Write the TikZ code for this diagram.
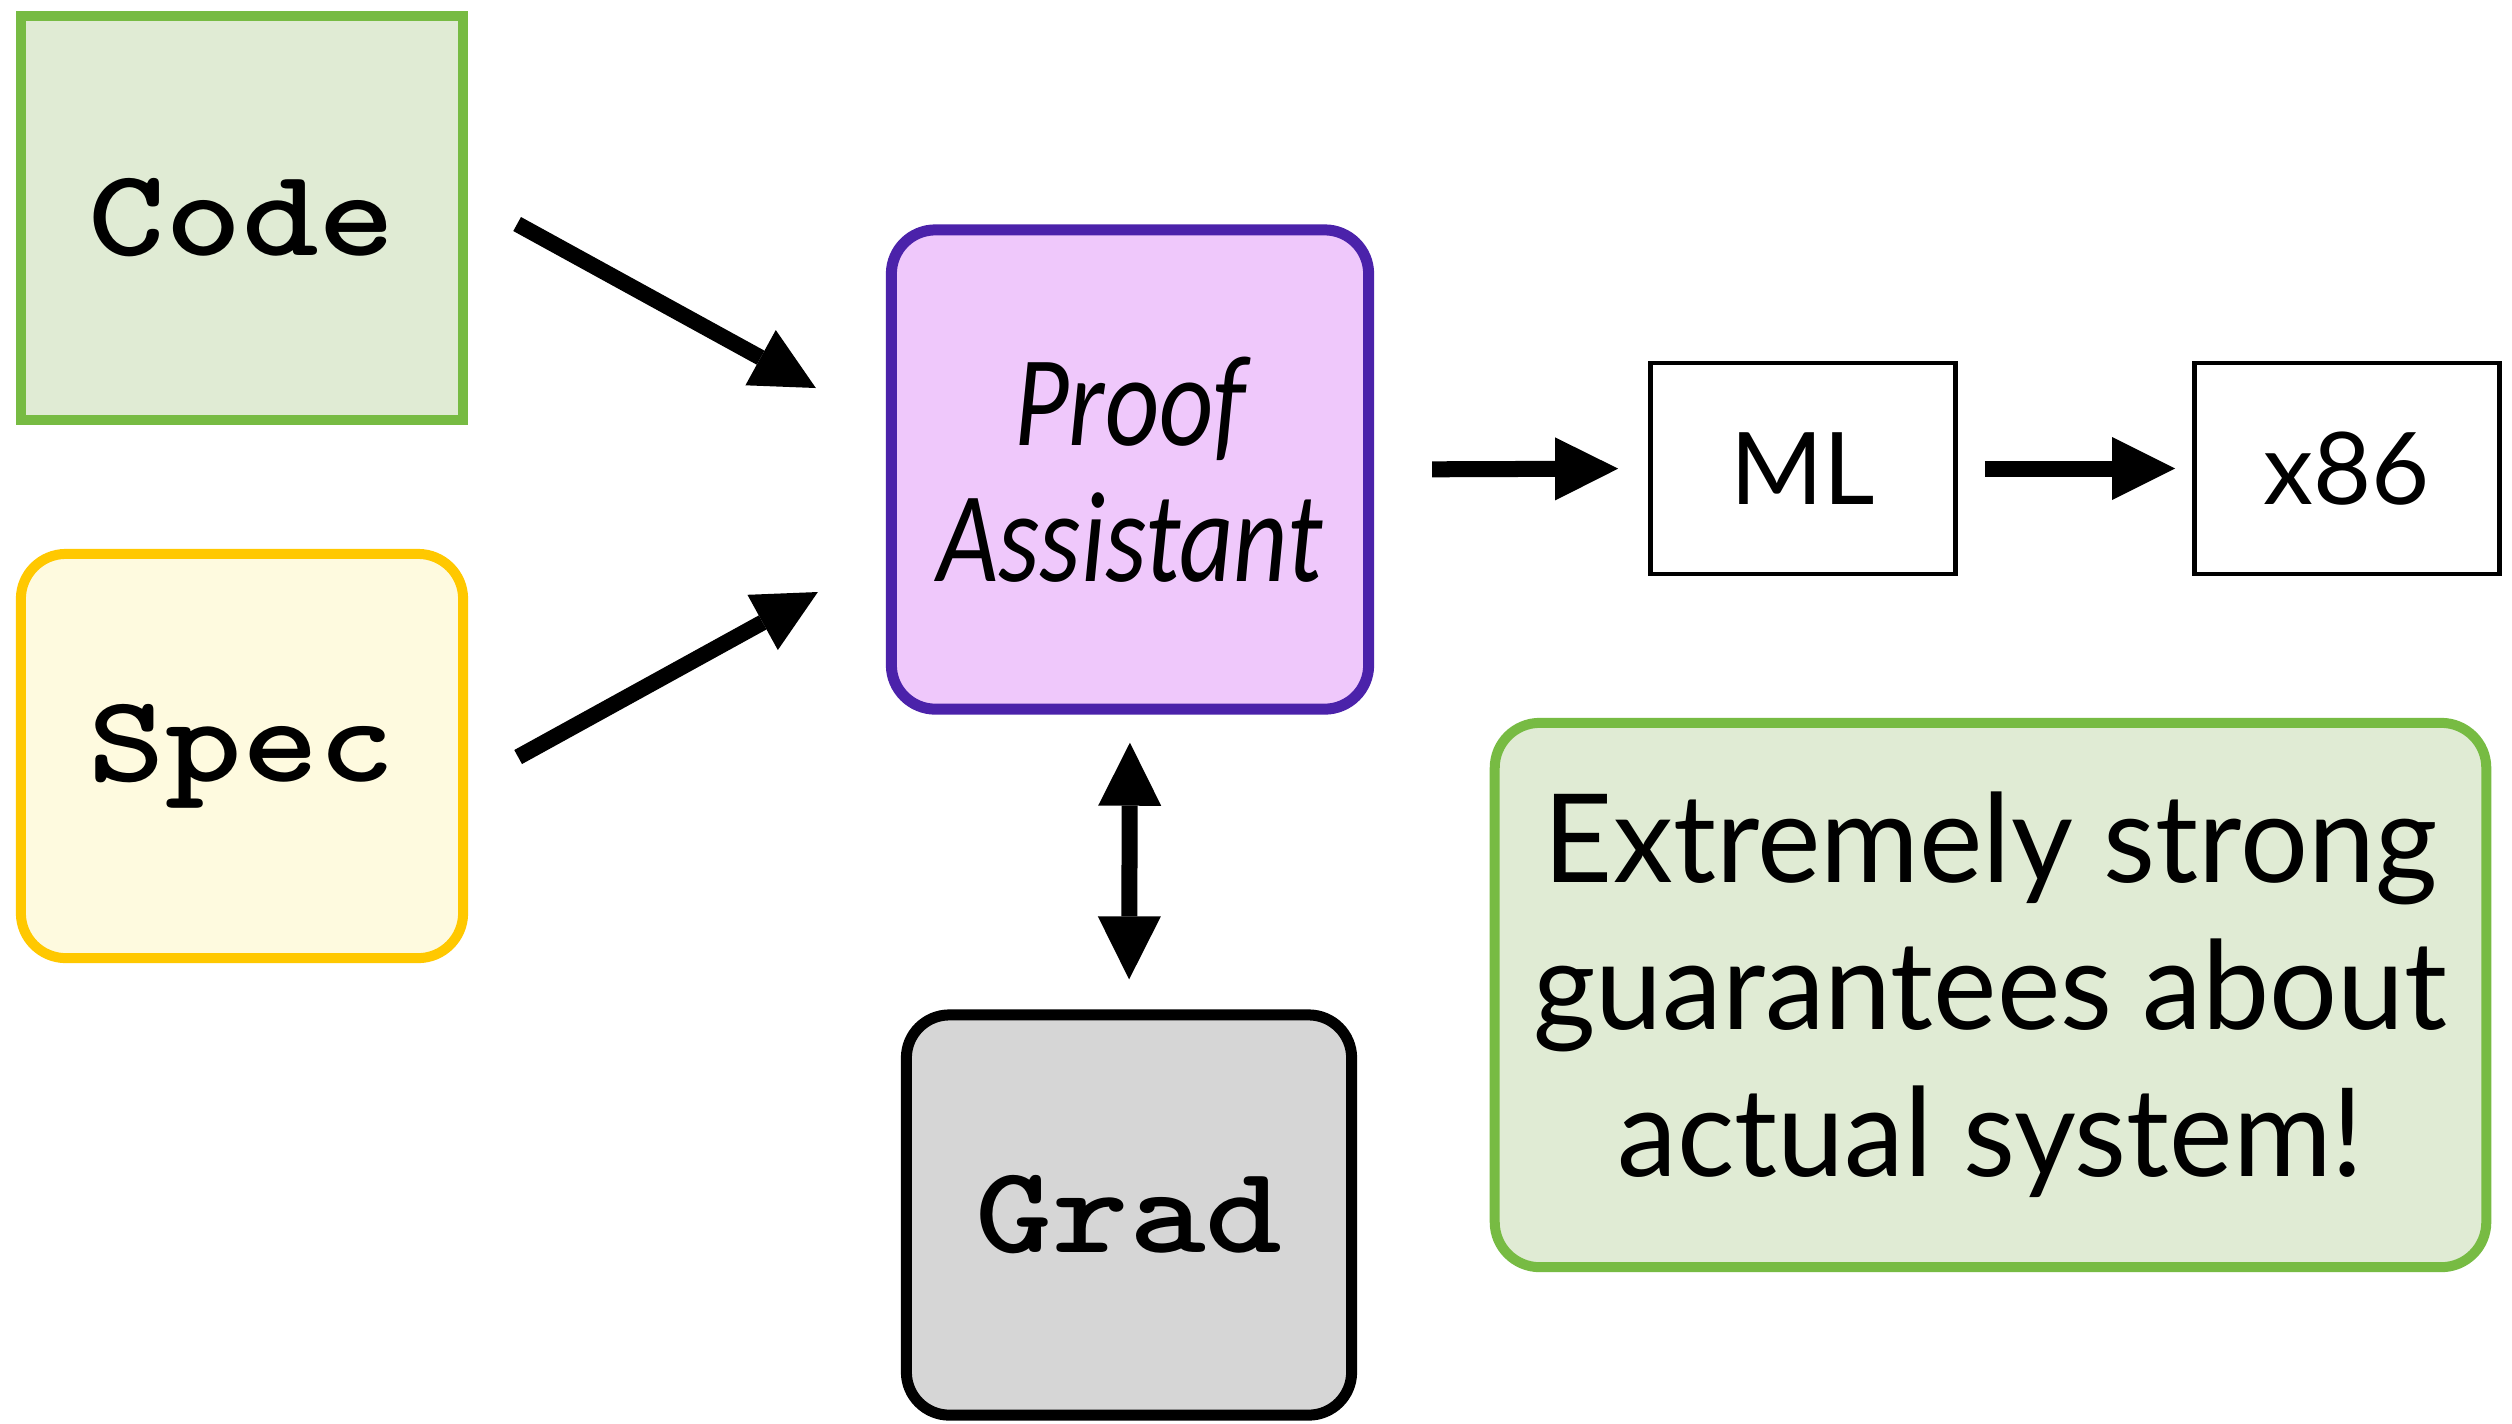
\documentclass[tikz,border=0pt]{standalone}
\usepackage{fontspec}
\usepackage{graphicx}
\usetikzlibrary{arrows.meta,calc}
\setmainfont{Lato}
\newfontfamily\calibrilike{Carlito}
\newfontfamily\typewriterbold{lmmonolt10-bold.otf}
\newcommand{\boxmono}{\typewriterbold\fontsize{41.5pt}{44pt}\selectfont}
\newcommand{\monolabel}[1]{\scalebox{1}[0.85]{#1}}

\definecolor{codeedge}{HTML}{77BB43}
\definecolor{codefill}{HTML}{E0EBD4}
\definecolor{specedge}{HTML}{FFC800}
\definecolor{specfill}{HTML}{FEFADF}
\definecolor{proofedge}{HTML}{4B22AA}
\definecolor{prooffill}{HTML}{EFC8FB}
\definecolor{gradfill}{HTML}{D6D6D6}

\begin{document}
\begin{tikzpicture}[x=0.01cm,y=-0.01cm,
  panel/.style={rectangle, inner sep=0pt, line width=0.10cm},
  codebox/.style={panel, draw=codeedge, fill=codefill,
    minimum width=4.42cm, minimum height=4.04cm, font=\boxmono},
  specbox/.style={panel, draw=specedge, fill=specfill, rounded corners=0.45cm,
    minimum width=4.42cm, minimum height=4.04cm, font=\boxmono},
  proofbox/.style={panel, draw=proofedge, fill=prooffill, rounded corners=0.44cm,
    line width=0.11cm, minimum width=4.77cm, minimum height=4.79cm, align=center,
    font=\calibrilike\itshape\fontsize{36.7pt}{38.7pt}\selectfont},
  gradbox/.style={panel, draw=black, fill=gradfill, rounded corners=0.43cm,
    line width=0.11cm, minimum width=4.45cm, minimum height=4.00cm, font=\boxmono},
  outbox/.style={panel, draw=black, fill=white, line width=0.045cm,
    minimum width=3.05cm, minimum height=2.11cm,
    font=\fontsize{28.5pt}{30pt}\selectfont},
  notebox/.style={panel, draw=codeedge, fill=codefill, rounded corners=0.45cm,
    minimum width=9.91cm, minimum height=5.44cm, align=center,
    font=\fontsize{35pt}{41.8pt}\selectfont},
  arr/.style={line width=0.16cm,
    -{Triangle[length=0.63cm,width=0.63cm,line width=0pt]}},
  dblarr/.style={line width=0.16cm,
    {Triangle[length=0.63cm,width=0.63cm,line width=0pt]}-{Triangle[length=0.63cm,width=0.63cm,line width=0pt]}}
]
\useasboundingbox (0,0) rectangle (2512,1423);
\fill[white] (0,0) rectangle (2512,1423);

% inputs
\node[codebox] (code) at (242,218) {\monolabel{Code}};
\node[specbox] (spec) at (242,756) {\monolabel{Spec}};

% checker and its companion
\node[proofbox] (proof) at (1130,469.5)
  {\scalebox{0.82}[1]{Proof}\\\scalebox{0.82}[1]{Assistant}};
\node[gradbox] (grad) at (1129,1215) {\monolabel{Grad}};

% extracted outputs
\node[outbox] (ml) at (1803,468.5) {ML};
\node[outbox] (x86) at (2347,468.5) {x86};

% remark
\node[notebox] (note) at (1990.5,995)
  {\scalebox{0.975}[1]{Extremely strong}\\\scalebox{0.975}[1]{guarantees about}\\\scalebox{0.975}[1]{actual system!}};

% connectors
\draw[arr] ($(code.east)+(49,6)$) -- ($(proof.west)+(-70,-81.5)$);
\draw[arr] ($(spec.east)+(50,1)$) -- ($(proof.west)+(-68,122.5)$);
\draw[arr, shorten <=0.58cm, shorten >=0.30cm] (proof.east) -- (ml.west);
\draw[arr, shorten <=0.27cm, shorten >=0.17cm] (ml.east) -- (x86.west);
\draw[dblarr, shorten <=0.28cm, shorten >=0.30cm] (proof.south) -- (grad.north);
\end{tikzpicture}
\end{document}
